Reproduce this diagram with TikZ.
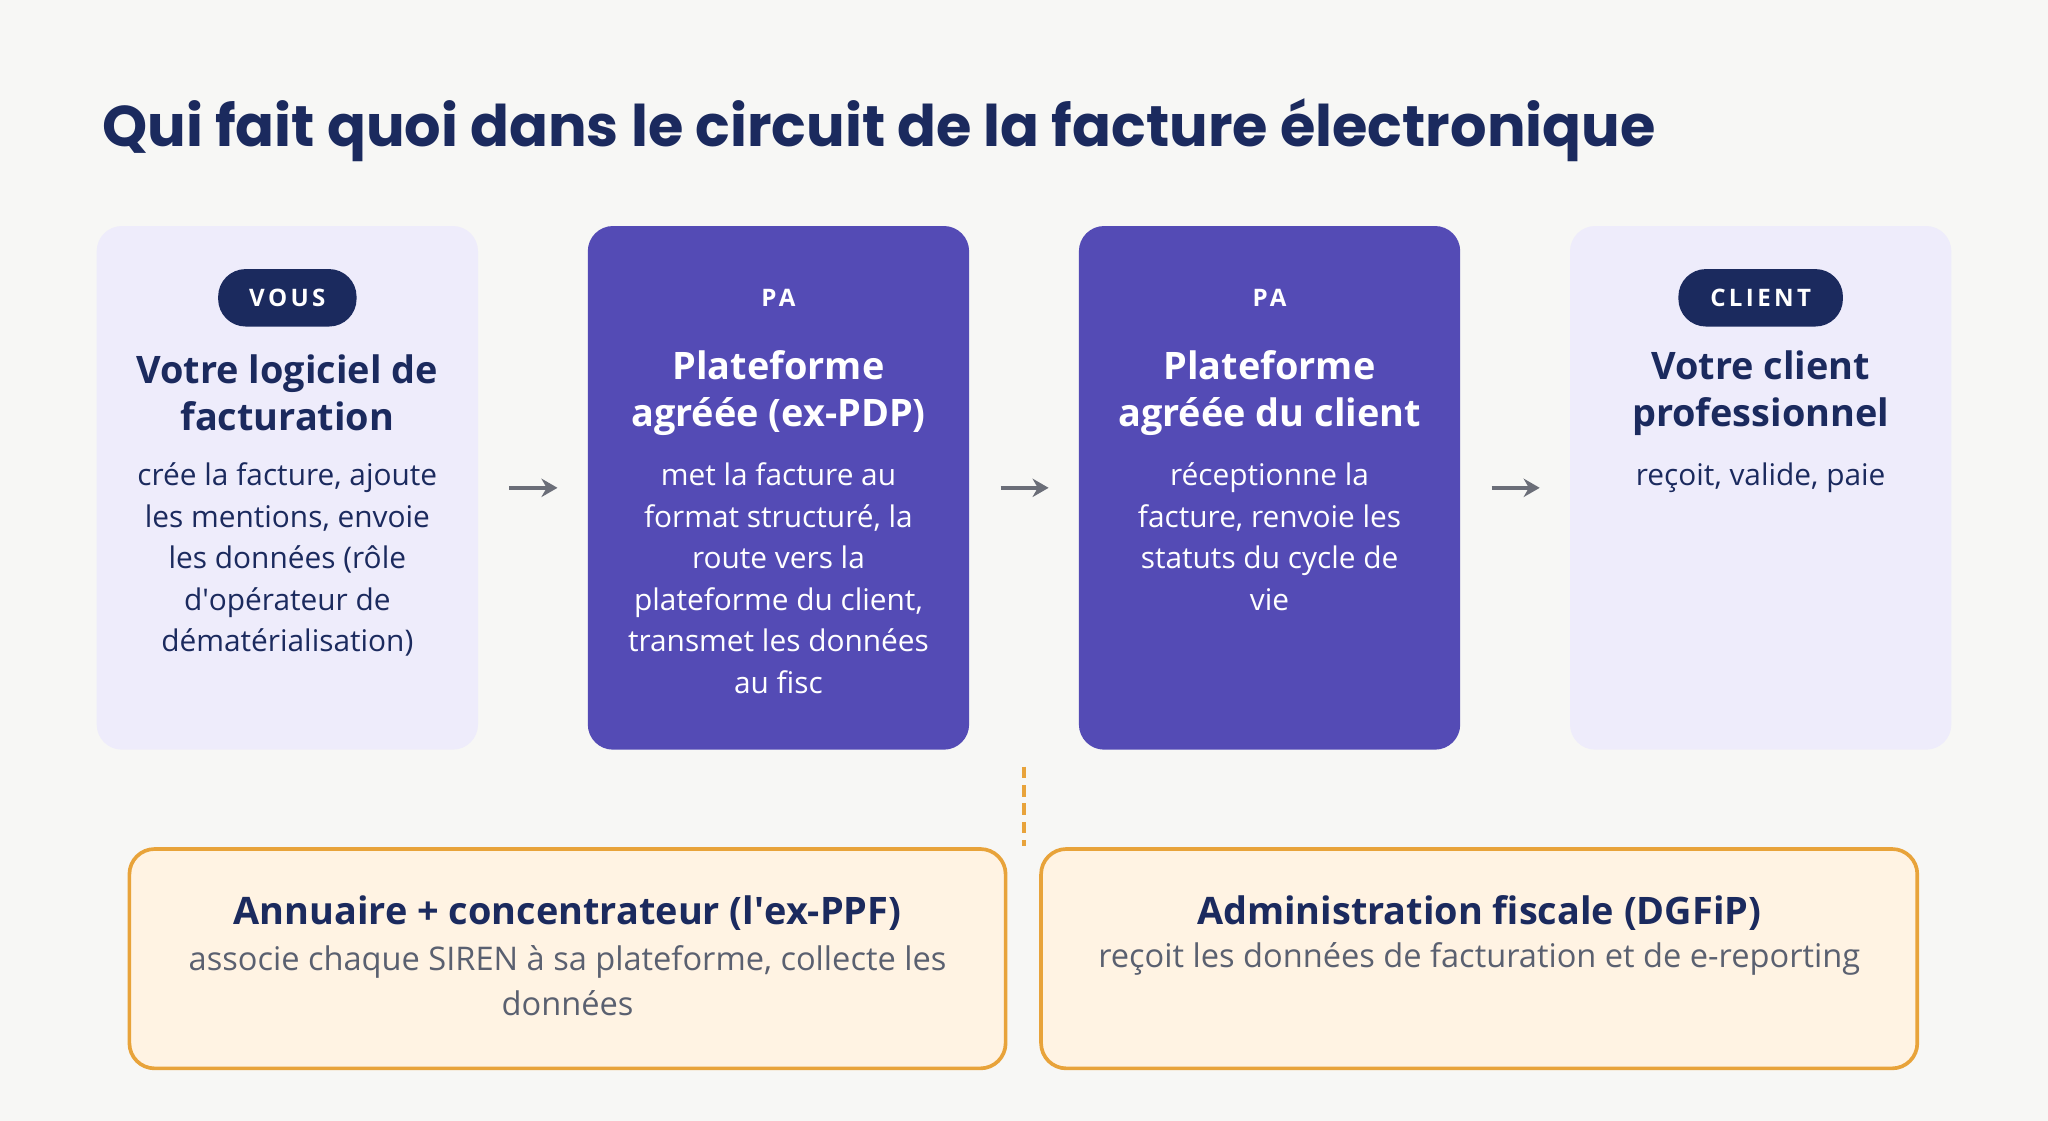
\documentclass[tikz,border=0pt]{standalone}
\usepackage{fontspec}
\setmainfont{Open Sans}
\newfontfamily\titlefont{Poppins}
\newfontfamily\badgefont[LetterSpace=14.0]{Open Sans}
\usetikzlibrary{positioning, arrows.meta}
\definecolor{navy}{HTML}{1B2A5E}
\definecolor{lavender}{HTML}{EEECFB}
\definecolor{violet}{HTML}{544BB5}
\definecolor{paper}{HTML}{F7F7F5}
\definecolor{cream}{HTML}{FFF3E3}
\definecolor{amber}{HTML}{E8A33A}
\definecolor{slate}{HTML}{5A6070}
\definecolor{arrowgray}{HTML}{6B6E78}
\tikzset{
card/.style={
  rectangle,
  rounded corners=11pt,
  minimum width=5.84cm,
  minimum height=8.02cm
  },
light/.style={card, fill=lavender},
dark/.style={card, fill=violet},
badge/.style={
  rectangle,
  rounded corners=12pt,
  fill=navy, text=white,
  minimum width=2.12cm, minimum height=0.88cm,
  font=\badgefont\bfseries\fontsize{10.5}{12}\selectfont
  },
tag/.style={text=white, font=\badgefont\bfseries\fontsize{10.5}{12}\selectfont},
heading/.style={align=center, font=\bfseries\fontsize{16.5}{20.4}\selectfont},
body/.style={align=center, anchor=north, font=\fontsize{13}{18.1}\selectfont},
small/.style={align=center, font=\fontsize{14.2}{19.8}\selectfont},
bottom/.style={
  rectangle,
  rounded corners=11pt,
  draw=amber, line width=1.6pt, fill=cream,
  minimum width=13.42cm, minimum height=3.36cm
  },
line/.style={-{Stealth[length=7pt,width=8pt]}, draw=arrowgray, line width=1.8pt,
  shorten <=13.5pt, shorten >=13pt}
}
\begin{document}
\begin{tikzpicture}[x=0.02cm, y=-0.02cm]
\useasboundingbox[fill=paper] (0,0) rectangle (1568,858);

\node[anchor=base west, text=navy, font=\titlefont\bfseries\fontsize{25}{29}\selectfont]
  (title) at (72,112) {Qui fait quoi dans le circuit de la facture électronique};

% cartes
\node[light]	(logiciel)		at (220,373.5)	{};
\node[dark]		(plateforme)	at (596,373.5)	{};
\node[dark]		(pdpclient)		at (972,373.5)	{};
\node[light]	(client)		at (1348,373.5)	{};

\node[badge]	(vous)		at (220,228)	{VOUS};
\node[tag]		(pa)		at (596,228)	{PA};
\node[tag]		(paclient)	at (972,228)	{PA};
\node[badge, minimum width=2.52cm]	(clientbadge)	at (1348,228)	{CLIENT};

\node[heading, text=navy]	(hlogiciel)		at (220,301)	{Votre logiciel de\\facturation};
\node[heading, text=white]	(hplateforme)	at (596,301)	{Plateforme\\agréée (ex-PDP)};
\node[heading, text=white]	(hpdpclient)	at (972,301)	{Plateforme\\agréée du client};
\node[heading, text=navy]	(hclient)		at (1348,301)	{Votre client\\professionnel};

\node[body, text=navy]	(blogiciel)		at (220,348)
  {crée la facture, ajoute\\les mentions, envoie\\les données (rôle\\d\textquotesingle opérateur de\\dématérialisation)};
\node[body, text=white]	(bplateforme)	at (596,348)
  {met la facture au\\format structuré, la\\route vers la\\plateforme du client,\\transmet les données\\au fisc};
\node[body, text=white]	(bpdpclient)	at (972,348)
  {réceptionne la\\facture, renvoie les\\statuts du cycle de\\vie};
\node[body, text=navy]	(bclient)		at (1348,348)	{reçoit, valide, paie};

\draw[line]	(logiciel.east)		--	(plateforme.west);
\draw[line]	(plateforme.east)	--	(pdpclient.west);
\draw[line]	(pdpclient.east)	--	(client.west);

% acteurs publics
\node[bottom]	(annuaire)	at (434.5,734)	{};
\node[bottom]	(dgfip)		at (1132.5,734)	{};

\node[heading, text=navy]	(hannuaire)	at (434.5,699)	{Annuaire + concentrateur (l\textquotesingle ex-PPF)};
\node[heading, text=navy]	(hdgfip)	at (1132.5,699)	{Administration fiscale (DGFiP)};
\node[small, text=slate]	(bannuaire)	at (434.5,751)
  {associe chaque SIREN à sa plateforme, collecte les\\données};
\node[small, text=slate]	(bdgfip)	at (1132.5,734)
  {reçoit les données de facturation et de e-reporting};

\coordinate (dashtop) at (784,587);
\coordinate (dashbottom) at (784,648);
\draw[amber, line width=1.6pt, dash pattern=on 5pt off 3pt]	(dashtop) -- (dashbottom);
\end{tikzpicture}
\end{document}
